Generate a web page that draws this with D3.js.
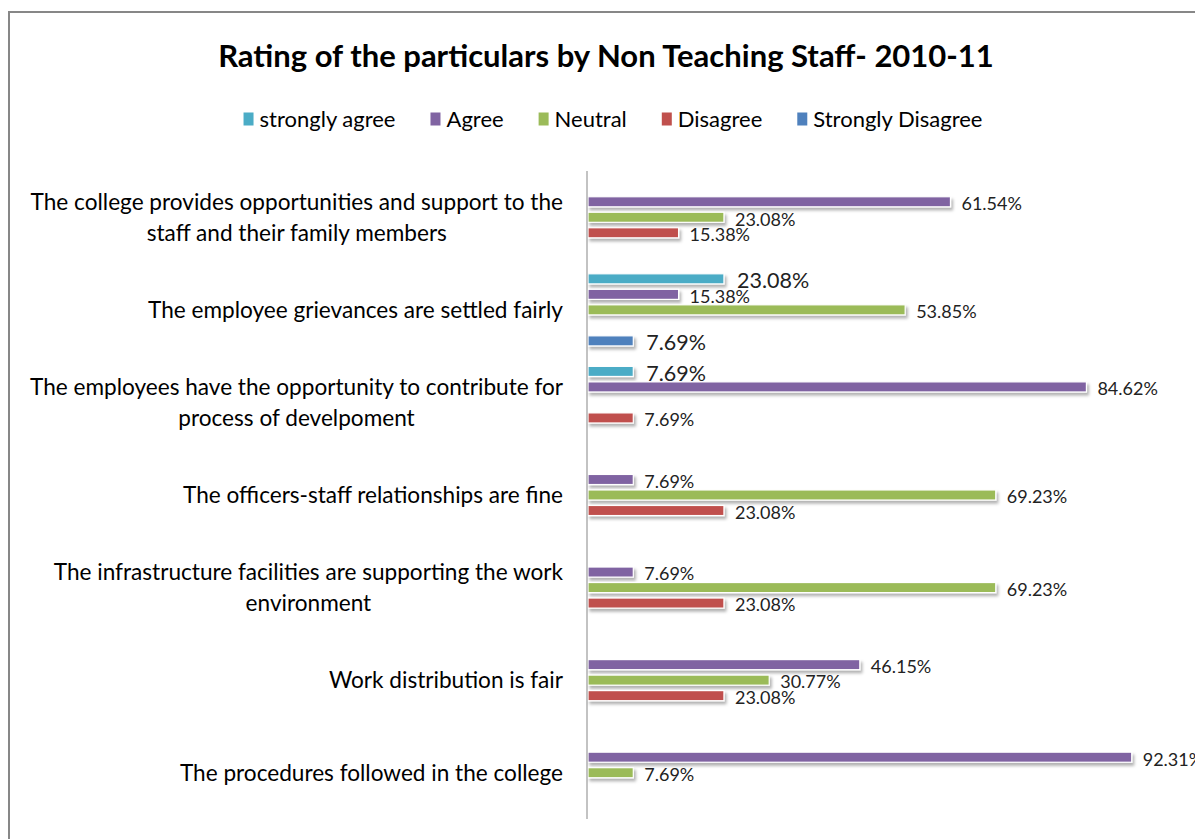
<!DOCTYPE html>
<html>
<head>
<meta charset="utf-8">
<script src="https://cdn.jsdelivr.net/npm/d3@7"></script>
<style>
  body { margin: 0; background: #fff; }
  svg { display: block; font-family: Lato, "Open Sans", sans-serif; }
</style>
</head>
<body>
<div id="chart"></div>
<script>
var categories = [
    ["The college provides opportunities and support to the", "staff and their family members"],
    ["The employee grievances are settled fairly"],
    ["The employees have the opportunity to contribute for", "process of develpoment"],
    ["The officers-staff relationships are fine"],
    ["The infrastructure facilities are supporting the work", "environment"],
    ["Work distribution is fair"],
    ["The procedures followed in the college"]
];

var seriesNames = ["strongly agree", "Agree", "Neutral", "Disagree", "Strongly Disagree"];

var stronglyAgree    = [null, 23.08, 7.69, null, null, null, null],
    agree            = [61.54, 15.38, 84.62, 7.69, 7.69, 46.15, 92.31],
    neutral          = [23.08, 53.85, null, 69.23, 69.23, 30.77, 7.69],
    disagree         = [15.38, null, 7.69, 23.08, 23.08, 23.08, null],
    stronglyDisagree = [null, 7.69, null, null, null, null, null];

var seriesValues = [stronglyAgree, agree, neutral, disagree, stronglyDisagree];

var colors = ["#4bacc6", "#8064a2", "#9bbb59", "#c0504d", "#4f81bd"];
// the two "strongly" series have larger labels in the original
var labelSize = [21.5, 18, 18, 18, 21.5];

var width = 1195, height = 839;

var svg = d3.select("#chart").append("svg")
    .attr("width", width)
    .attr("height", height);

var defs = svg.append("defs");
var shadow = defs.append("filter")
    .attr("id", "shadow")
    .attr("x", "-5%").attr("y", "-50%")
    .attr("width", "120%").attr("height", "250%");
shadow.append("feDropShadow")
    .attr("dx", 2).attr("dy", 3)
    .attr("stdDeviation", 1.6)
    .attr("flood-color", "#000")
    .attr("flood-opacity", 0.3);

// chart border (runs off the right/bottom of the picture)
svg.append("rect")
    .attr("x", 9).attr("y", 12)
    .attr("width", 1300).attr("height", 1000)
    .attr("fill", "none")
    .attr("stroke", "#878787")
    .attr("stroke-width", 2);

svg.append("text")
    .attr("x", 606).attr("y", 67)
    .attr("text-anchor", "middle")
    .attr("font-size", 31)
    .attr("font-weight", "bold")
    .attr("fill", "#000")
    .text("Rating of the particulars by Non Teaching Staff- 2010-11");

// legend
var legend = svg.append("g");
var lx = 0, itemGap = 35;
seriesNames.forEach(function (name, i) {
    var g = legend.append("g").attr("transform", "translate(" + lx + ",0)");
    g.append("rect")
        .attr("x", 0).attr("y", -6.5)
        .attr("width", 10).attr("height", 13)
        .attr("fill", colors[i]);
    var t = g.append("text")
        .attr("x", 16).attr("y", 0)
        .attr("dy", "0.35em")
        .attr("font-size", 22)
        .attr("fill", "#000")
        .text(name);
    lx += 16 + t.node().getComputedTextLength() + itemGap;
});
lx -= itemGap;
legend.attr("transform", "translate(" + (613 - lx / 2) + ",119)");

// scales
var x = d3.scaleLinear().domain([0, 100]).range([588, 1177]);

var y = d3.scaleBand()
    .domain(d3.range(categories.length))
    .range([171, 819]);

var ySeries = d3.scaleBand()
    .domain(d3.range(seriesNames.length))
    .range([0, y.bandwidth()])
    .paddingInner(0.35)
    .paddingOuter(0.66);

// category labels: lines centred on each other, block right-aligned to the axis
var labelRight = 563;
categories.forEach(function (lines, i) {
    var g = svg.append("g");
    var cy = y(i) + y.bandwidth() / 2;
    var lh = 31;
    var texts = lines.map(function (line, j) {
        return g.append("text")
            .attr("y", cy + (j - (lines.length - 1) / 2) * lh)
            .attr("dy", "0.35em")
            .attr("text-anchor", "middle")
            .attr("font-size", 22.6)
            .attr("fill", "#000")
            .text(line);
    });
    var maxW = d3.max(texts, function (t) { return t.node().getComputedTextLength(); });
    texts.forEach(function (t) { t.attr("x", labelRight - maxW / 2); });
});

// bars
var plot = svg.append("g");
seriesValues.forEach(function (vals, s) {
    var data = vals.map(function (v, i) { return { v: v, i: i }; })
        .filter(function (d) { return d.v !== null; });

    plot.selectAll(".bar-" + s)
        .data(data)
        .enter().append("rect")
        .attr("x", x(0))
        .attr("y", function (d) { return y(d.i) + ySeries(s); })
        .attr("width", function (d) { return x(d.v) - x(0); })
        .attr("height", ySeries.bandwidth())
        .attr("fill", colors[s])
        .attr("stroke", "#fff")
        .attr("stroke-width", 1.2)
        .attr("filter", "url(#shadow)");

    plot.selectAll(".label-" + s)
        .data(data)
        .enter().append("text")
        .attr("x", function (d) { return x(d.v) + (labelSize[s] > 20 ? 13 : 11); })
        .attr("y", function (d) { return y(d.i) + ySeries(s) + ySeries.bandwidth() / 2 + 2; })
        .attr("dy", "0.35em")
        .attr("font-size", labelSize[s])
        .attr("fill", "#222")
        .text(function (d) { return d.v.toFixed(2) + "%"; });
});

// category axis line
svg.append("line")
    .attr("x1", 587).attr("x2", 587)
    .attr("y1", y.range()[0]).attr("y2", y.range()[1])
    .attr("stroke", "#878787")
    .attr("stroke-width", 1);
</script>
</body>
</html>
